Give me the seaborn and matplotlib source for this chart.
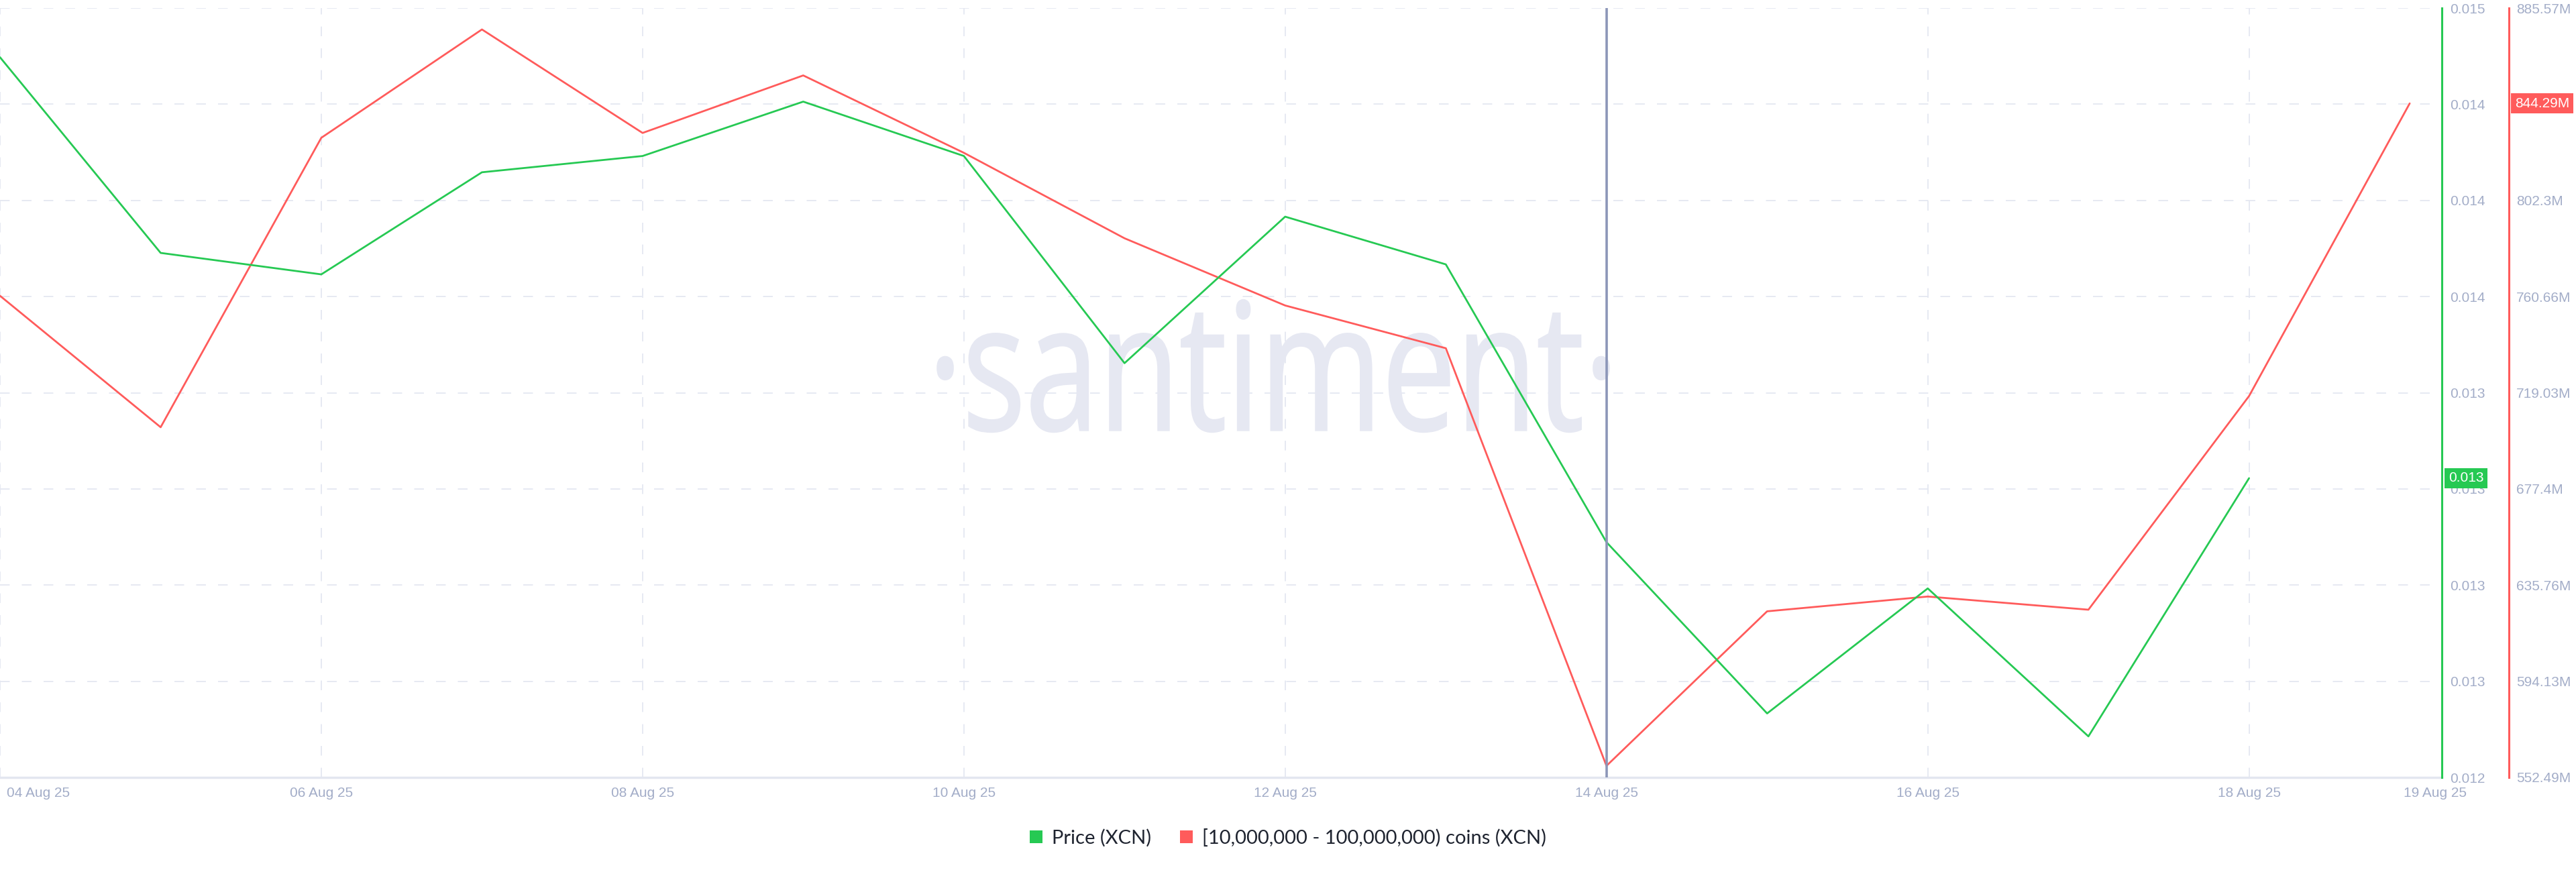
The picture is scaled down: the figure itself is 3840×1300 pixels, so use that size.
import matplotlib
matplotlib.use("Agg")
import matplotlib.pyplot as plt
import matplotlib.dates as mdates
from matplotlib.patches import Patch, PathPatch
from matplotlib.textpath import TextPath
from matplotlib.font_manager import FontProperties
import matplotlib.transforms as mtransforms
import seaborn as sns
import pandas as pd
import numpy as np

# ---------------- data ----------------
dates = pd.date_range("2025-08-04", "2025-08-19", freq="D")
price = [0.014397, 0.013868, 0.013810, 0.014086, 0.014130, 0.014277, 0.014130,
         0.013570, 0.013966, 0.013837, 0.013086, 0.012623, 0.012961, 0.012561,
         0.013259, np.nan]
holders = [761.0, 704.1, 829.4, 876.3, 831.5, 856.4, 822.9, 785.9, 756.8,
           738.3, 557.5, 624.4, 630.8, 625.1, 717.6, 844.29]
red_ticks = [552.49, 594.13, 635.76, 677.40, 719.03, 760.66, 802.30, 843.93, 885.57]
red_tick_labels = ["552.49M", "594.13M", "635.76M", "677.4M", "719.03M",
                   "760.66M", "802.3M", "", "885.57M"]
price_min, price_max = 0.01245, 0.01453
x_tick_dates = ["2025-08-04", "2025-08-06", "2025-08-08", "2025-08-10", "2025-08-12",
                "2025-08-14", "2025-08-16", "2025-08-18"]
x_tick_labels = ["04 Aug 25", "06 Aug 25", "08 Aug 25", "10 Aug 25", "12 Aug 25",
                 "14 Aug 25", "16 Aug 25", "18 Aug 25"]
end_label = "19 Aug 25"
marker_date = "2025-08-14"
price_name = "Price (XCN)"
holders_name = "[10,000,000 - 100,000,000) coins (XCN)"

GREEN = "#26C953"
RED = "#FF5B5B"
TICK_COLOR = "#A3ADC8"
GRID_COLOR = "#E4E7F1"

df = pd.DataFrame({"date": dates, "price": price, "holders": holders})

sns.set_theme(style="white")
plt.rcParams["font.family"] = ["Liberation Sans", "DejaVu Sans"]

W, H = 3840, 1300
fig = plt.figure(figsize=(38.4, 13), dpi=100)
fig.patch.set_facecolor("white")
ax = fig.add_axes([0.0, 1 - 1159 / H, 3640 / W, (1159 - 12) / H])
ax2 = ax.twinx()

# x range
x0 = mdates.date2num(pd.Timestamp("2025-08-04"))
ax.set_xlim(x0, x0 + 15.20)

# red axis (holders) on ax, spine offset right
ax.set_ylim(red_ticks[0], red_ticks[-1])
ax.set_yticks(red_ticks)
ax.set_yticklabels(red_tick_labels)
ax.yaxis.set_ticks_position("right")
ax.yaxis.set_label_position("right")
ax.spines["right"].set_position(("axes", 3740 / 3640))
ax.spines["right"].set_color(RED)
ax.spines["right"].set_linewidth(2.2)
for s in ["left", "top"]:
    ax.spines[s].set_visible(False)
ax.spines["bottom"].set_color("#E3E6F0")
ax.spines["bottom"].set_linewidth(2.5)
ax.tick_params(axis="y", length=0, pad=8, labelsize=15, labelcolor=TICK_COLOR)

# green axis (price)
ax2.set_ylim(price_min, price_max)
gticks = np.linspace(price_min, price_max, 9)
ax2.set_yticks(gticks)
ax2.set_yticklabels([f"{v:.3f}" for v in gticks])
ax2.spines["right"].set_color(GREEN)
ax2.spines["right"].set_linewidth(2.2)
for s in ["left", "top", "bottom"]:
    ax2.spines[s].set_visible(False)
ax2.tick_params(axis="y", length=0, pad=9, labelsize=15, labelcolor=TICK_COLOR)

# grid
for yv in red_ticks:
    ax.axhline(yv, color=GRID_COLOR, lw=1.3, ls=(0, (8, 10)), zorder=0)
for d in x_tick_dates:
    ax.axvline(mdates.date2num(pd.Timestamp(d)), color=GRID_COLOR, lw=1.3,
               ls=(0, (8, 10)), zorder=0)

# watermark (condensed by horizontal scaling)
tp = TextPath((0, 0), "·santiment·", size=190 * 100 / 72,
              prop=FontProperties(family=["Open Sans", "DejaVu Sans"]))
bb = tp.get_extents()
cx_path = (bb.x0 + bb.x1) / 2
xh_mid = 0.27 * 190 * 100 / 72  # approx middle of x-height
wm_tr = (mtransforms.Affine2D().translate(-cx_path, -xh_mid).scale(0.745, 1.0)
         .translate(1898, H - 570))
wm = PathPatch(wm_tr.transform_path(tp), facecolor="#E6E8F2", edgecolor="#E6E8F2",
               linewidth=2.0, transform=mtransforms.IdentityTransform(), zorder=0)
ax.add_artist(wm)

# lines
sns.lineplot(data=df, x="date", y="holders", ax=ax, color=RED, lw=2.0, zorder=3)
sns.lineplot(data=df, x="date", y="price", ax=ax2, color=GREEN, lw=2.0, zorder=3)
ax.set_xlabel("")
ax.set_ylabel("")
ax2.set_ylabel("")

# vertical marker line
ax2.axvline(mdates.date2num(pd.Timestamp(marker_date)), color="#8C96B8", lw=2.6, zorder=5)

# x ticks
ax.set_xticks([mdates.date2num(pd.Timestamp(d)) for d in x_tick_dates])
ax.set_xticklabels(x_tick_labels)
ax.tick_params(axis="x", length=0, pad=10, labelsize=15, labelcolor=TICK_COLOR)
first = ax.get_xticklabels()[0]
first.set_ha("left")
first.set_transform(first.get_transform() + mtransforms.ScaledTranslation(10 / 100, 0, fig.dpi_scale_trans))
# end label
ax.text(x0 + 15.16, -14 / 1147, end_label,
        transform=mtransforms.blended_transform_factory(ax.transData, ax.transAxes),
        ha="center", va="top", fontsize=15, color=TICK_COLOR)

# highlight boxes
last_h = holders[-1]
ax.text(3749 / 3640, last_h, f"{last_h:.2f}M",
        transform=mtransforms.blended_transform_factory(ax.transAxes, ax.transData),
        ha="left", va="center", fontsize=15, color="white", zorder=10, clip_on=False,
        bbox=dict(boxstyle="square,pad=0.28", fc=RED, ec="none"))
last_p = [p for p in price if not np.isnan(p)][-1]
ax2.text(3650 / 3640, last_p, f"{last_p:.3f}",
         transform=mtransforms.blended_transform_factory(ax2.transAxes, ax2.transData),
         ha="left", va="center", fontsize=15, color="white", zorder=10, clip_on=False,
         bbox=dict(boxstyle="square,pad=0.28", fc=GREEN, ec="none"))

# legend
handles = [Patch(facecolor=GREEN, edgecolor="none", label=price_name),
           Patch(facecolor=RED, edgecolor="none", label=holders_name)]
leg = fig.legend(handles=handles, loc="center", bbox_to_anchor=(0.5, 1 - 1249 / H),
                 ncol=2, frameon=False, handlelength=0.65, handleheight=0.65,
                 handletextpad=0.45, columnspacing=1.5,
                 prop={"family": ["Lato", "DejaVu Sans"], "size": 21})
for t in leg.get_texts():
    t.set_color("#1F2430")

fig.savefig("out.png", dpi=100, facecolor="white")
